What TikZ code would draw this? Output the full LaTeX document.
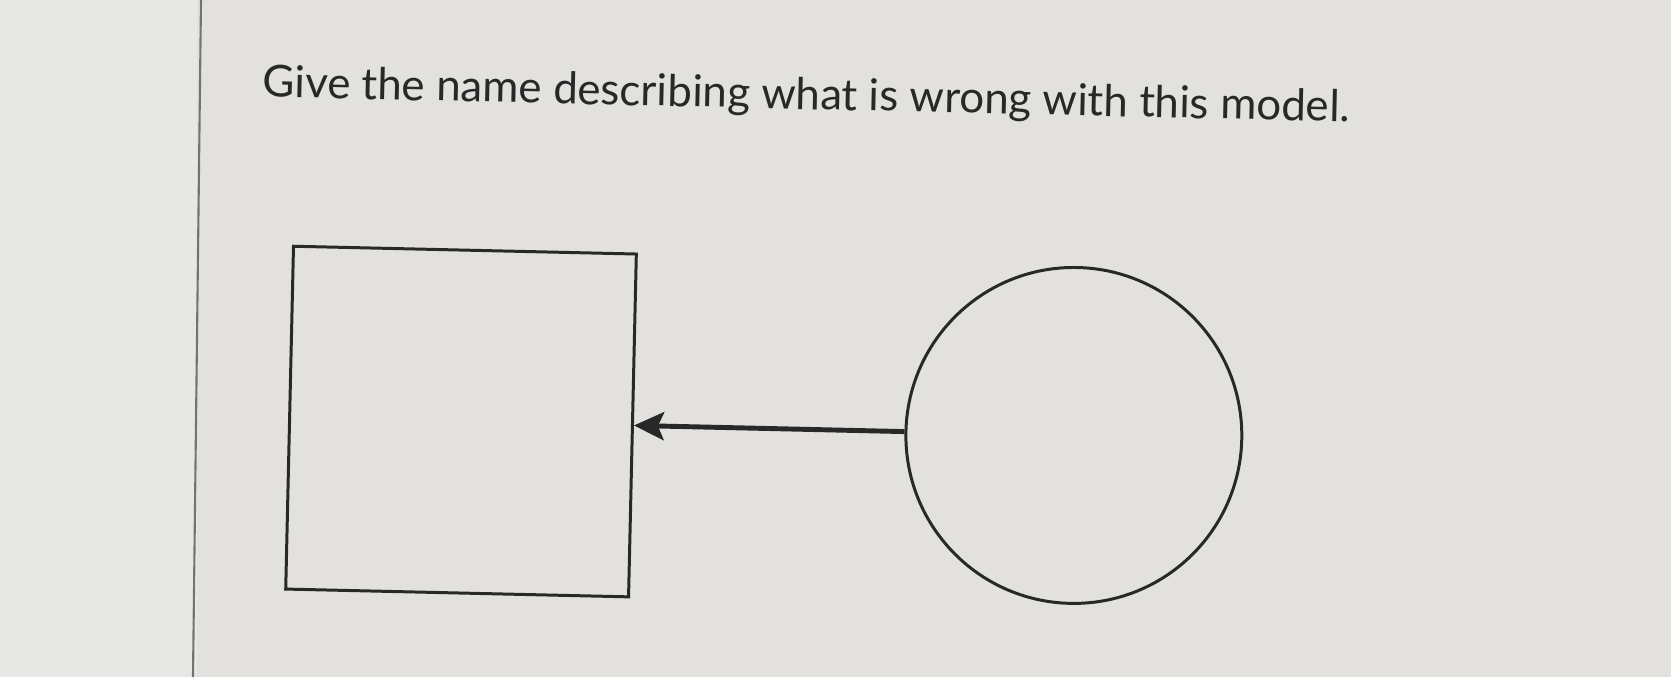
\documentclass[tikz,border=0pt]{standalone}
\usepackage{fontspec}
\setmainfont{Lato}
\usetikzlibrary{arrows.meta}

\definecolor{paper}{RGB}{226,225,221}
\definecolor{panel}{RGB}{231,231,229}
\definecolor{ink}{RGB}{40,40,40}

\begin{document}
\begin{tikzpicture}[x=0.02cm,y=-0.02cm]
			\useasboundingbox (0,0) rectangle (1671,677);
			\fill[paper] (0,0) rectangle (1671,677); % Background
			\fill[panel] (0,0) rectangle (197,677); % Left panel
			\draw[line width=1.2pt,black!55] (201,0) -- (193,677); % Panel border
			\begin{scope}[rotate around={-1.3:(835,338)},transform shape]
  			\node[anchor=base west,text=ink,inner sep=0pt,font=\fontsize{25}{30}\selectfont] (question) at (257,110) {Give the name describing what is wrong with this model.}; % Question
  			\node[draw=ink,line width=1.7pt,minimum size=6.86cm,inner sep=0pt] (entity) at (463,430) {}; % Square
  			\node[draw=ink,circle,line width=1.7pt,minimum size=6.72cm,inner sep=0pt] (attribute) at (1076,430) {}; % Circle
  			\draw[ink,line width=2.8pt,-{Stealth[length=0.6cm,width=0.56cm,inset=0.12cm]}] (attribute.west) -- (entity.east); % Arrow from circle to square
			\end{scope}
		\end{tikzpicture}
\end{document}
